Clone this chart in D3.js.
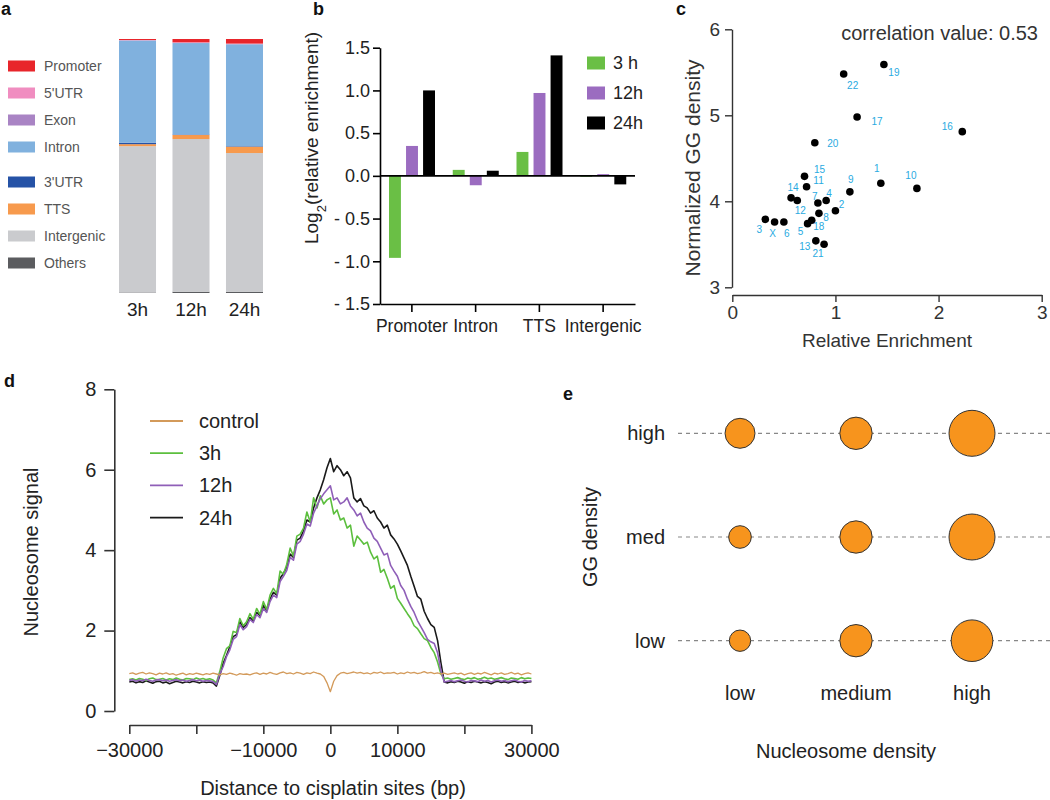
<!DOCTYPE html>
<html><head><meta charset="utf-8">
<script src="https://cdn.jsdelivr.net/npm/d3@7"></script>
<style>
body{margin:0;background:#fff;}
text{font-family:"Liberation Sans",Arial,Helvetica,sans-serif;}
</style></head><body>
<svg id="fig" width="1050" height="800"></svg>
<script>
// ---------- Panel a: genomic annotation (% of sites) ----------
const annoCategories = ["Promoter","5'UTR","Exon","Intron","3'UTR","TTS","Intergenic","Others"];
const annoColors = ["#e8252b","#f08dc0","#a984c4","#80b1de","#2552a6","#f79a4d","#cacbce","#5b5c5f"];
const annoTimes = ["3h","12h","24h"];
const anno3h  = [0.4, 0.1, 0.1, 40.2, 0.6, 0.8, 57.6, 0.2];
const anno12h = [1.3, 0.2, 0.1, 36.0, 0.2, 1.6, 60.1, 0.5];
const anno24h = [1.8, 0.2, 0.1, 40.1, 0.2, 2.5, 54.6, 0.5];

// ---------- Panel b: log2 relative enrichment ----------
const enrichCats = ["Promoter","Intron","TTS","Intergenic"];
const enrichTimes = ["3h","12h","24h"];
const enrichLegend = ["3 h","12h","24h"];
const enrichColors = ["#6abf45","#9b6cc0","#000000"];
const enrich3h  = [-0.96, 0.07, 0.28, -0.01];
const enrich12h = [0.35, -0.11, 0.97, 0.02];
const enrich24h = [1.00, 0.06, 1.41, -0.10];
const enrichTicks = [-1.5,-1.0,-0.5,0.0,0.5,1.0,1.5];

// ---------- Panel c: chromosome scatter ----------
const chromNames = ["1","2","3","4","5","6","7","8","9","10","11","12","13","14","15","16","17","18","19","20","21","22","X"];
const chromEnrich = [1.44,1.00,0.32,0.91,0.73,0.50,0.83,0.84,1.14,1.79,0.72,0.63,0.81,0.57,0.70,2.23,1.21,0.77,1.47,0.80,0.89,1.08,0.41];
const chromGG     = [4.21,3.89,3.79,4.01,3.74,3.76,3.98,3.86,4.11,4.15,4.17,4.01,3.54,4.04,4.29,4.81,4.98,3.78,5.59,4.68,3.50,5.48,3.76];
const corrText = "correlation value: 0.53";
// label placement (pixel offsets from each dot)
const chromLabelDx = [-4,6,-6,3,-7,3,-3,7,1,-6,12,3,-11,2,15,-15,20,7,10,18,-6,9,-2];
const chromLabelDy = [-15,-6,10,-7,8,12,-7,4,-12,-13,-6,10,6,-10,-7,-5,4,6,8,1,9,11,12];

// ---------- Panel d: nucleosome signal profiles ----------
const distStart = -30000, distStep = 500; // positions -30000..30000
const sigControl = [0.93,0.95,0.91,0.94,0.96,0.92,0.95,0.93,0.90,0.94,0.92,0.95,0.91,0.93,0.89,0.92,0.94,0.90,0.93,0.91,0.94,0.92,0.90,0.93,0.91,0.94,
 0.92,0.90,0.93,0.91,0.94,0.92,0.89,0.93,0.91,0.92,0.90,0.93,0.95,0.91,0.94,0.92,0.96,0.93,0.91,0.95,0.97,0.93,0.95,0.92,0.96,0.94,0.91,0.95,0.93,0.97,0.94,0.92,
 0.86,0.70,0.48,0.74,0.88,
 0.94,0.96,0.93,0.95,0.97,0.94,0.96,0.93,0.95,0.92,0.96,0.94,0.97,0.93,0.95,0.94,0.96,0.92,0.95,0.93,
 0.97,0.94,0.96,0.93,0.95,0.98,0.94,0.96,0.93,0.95,0.92,0.94,0.91,0.93,0.95,0.92,0.94,0.90,0.93,0.95,
 0.91,0.94,0.92,0.96,0.93,0.90,0.94,0.92,0.95,0.91,0.93,0.96,0.92,0.94,0.90,0.93,0.95,0.92];
const sig3h = [0.78,0.80,0.77,0.81,0.79,0.76,0.80,0.82,0.78,0.79,0.81,0.77,0.80,0.78,0.82,0.79,0.77,0.81,0.80,0.78,0.82,0.79,0.81,0.78,0.80,0.77,
 0.70,0.98,1.32,1.55,1.62,1.98,1.95,2.30,2.12,2.22,2.42,2.28,2.55,2.40,2.72,2.52,2.88,3.05,2.92,3.48,3.40,3.65,4.05,3.85,4.35,4.40,4.55,4.95,4.70,5.30,5.05,5.35,5.15,5.25,
 5.30,4.90,5.00,4.75,4.80,4.55,4.62,4.10,4.35,4.25,4.15,4.20,3.95,3.78,3.85,3.45,3.52,3.30,3.05,3.12,2.80,2.68,2.55,2.42,2.30,2.12,2.05,1.92,1.80,1.75,1.58,1.45,1.22,0.92,0.80,
 0.82,0.79,0.81,0.83,0.80,0.78,0.82,0.80,0.83,0.79,0.81,0.84,0.80,0.82,0.79,0.81,0.83,0.80,0.78,0.82,0.81,0.79,0.83,0.80,0.82,0.81];
const sig12h = [0.76,0.78,0.74,0.77,0.75,0.79,0.76,0.74,0.77,0.78,0.75,0.77,0.74,0.76,0.78,0.75,0.77,0.74,0.76,0.78,0.75,0.77,0.74,0.76,0.75,0.73,
 0.66,0.92,1.10,1.35,1.52,1.78,1.85,2.15,2.02,2.10,2.28,2.20,2.40,2.32,2.55,2.45,2.72,2.88,2.82,3.22,3.35,3.50,3.82,3.75,4.15,4.22,4.40,4.65,4.60,4.92,5.10,5.28,5.40,5.50,
 5.60,5.25,5.30,5.15,5.20,5.30,5.10,5.00,4.85,4.92,4.70,4.55,4.48,4.30,4.22,4.05,3.88,3.92,3.62,3.48,3.35,3.12,3.00,2.78,2.60,2.45,2.25,2.10,1.95,1.78,1.72,1.68,1.45,1.00,0.72,
 0.74,0.76,0.73,0.75,0.77,0.74,0.72,0.76,0.75,0.73,0.77,0.74,0.76,0.72,0.75,0.77,0.74,0.76,0.73,0.75,0.77,0.74,0.72,0.76,0.74,0.75];
const sig24h = [0.72,0.74,0.70,0.73,0.71,0.75,0.72,0.69,0.73,0.74,0.70,0.72,0.68,0.71,0.74,0.72,0.70,0.73,0.71,0.74,0.72,0.70,0.73,0.71,0.72,0.70,
 0.62,0.88,1.18,1.38,1.60,1.85,1.90,2.22,2.08,2.15,2.32,2.25,2.45,2.38,2.62,2.50,2.78,2.95,2.88,3.30,3.42,3.58,3.90,3.82,4.25,4.30,4.48,4.75,4.70,5.05,5.30,5.50,5.75,6.05,
 6.28,5.95,6.10,6.00,5.85,5.95,5.80,5.30,5.20,5.28,5.10,5.05,4.92,4.98,4.80,4.70,4.55,4.62,4.38,4.28,4.15,3.98,3.80,3.62,3.35,3.10,2.85,2.78,2.48,2.30,2.15,2.08,1.75,1.20,0.72,
 0.70,0.73,0.71,0.74,0.72,0.69,0.73,0.71,0.74,0.72,0.70,0.73,0.71,0.68,0.72,0.74,0.71,0.73,0.70,0.72,0.74,0.71,0.73,0.70,0.72,0.73];
const sigNames = ["control","3h","12h","24h"];
const sigColors = ["#d39a5a","#5cbf3e","#8f5fb8","#1a1a1a"];
const distTicks = [-30000,-20000,-10000,0,10000,20000,30000];
const distLabeled = [-30000,-10000,0,10000,30000];

// ---------- Panel e: bubble summary ----------
const nucLevels = ["low","medium","high"];
const ggLevels = ["low","med","high"];
const bubbleLow  = [114, 262, 433];
const bubbleMed  = [128, 262, 529];
const bubbleHigh = [225, 262, 529];

// =====================================================
const svg = d3.select("#fig");
function panelLetter(t,x,y){ svg.append("text").attr("x",x).attr("y",y).attr("font-size",18).attr("font-weight","bold").attr("fill","#111").text(t); }
function styleText(g,size,fill){ g.selectAll("text").attr("font-size",size).attr("fill",fill).style("font-family","Liberation Sans, Arial, sans-serif"); }

// ---------- Panel a ----------
panelLetter("a",1,15);
const colorA = d3.scaleOrdinal().domain(annoCategories).range(annoColors);
const xA = d3.scaleBand().domain(annoTimes).range([119,263]).paddingInner(0.308);
const yA = d3.scaleLinear().domain([0,100]).range([293,39]);
const annoSeries = [anno3h, anno12h, anno24h];
const annoRows = annoTimes.map((t,i)=>{const o={time:t}; annoCategories.forEach((c,j)=>o[c]=annoSeries[i][j]); return o;});
const stackA = d3.stack().keys(annoCategories.slice().reverse())(annoRows);
svg.append("g").selectAll("g").data(stackA).join("g").attr("fill",d=>colorA(d.key))
  .selectAll("rect").data(d=>d).join("rect")
  .attr("x",d=>xA(d.data.time)).attr("width",xA.bandwidth())
  .attr("y",d=>yA(d[1])).attr("height",d=>Math.max(0,yA(d[0])-yA(d[1])));
const axA = svg.append("g").attr("transform","translate(0,299)")
  .call(d3.axisBottom(xA).tickSize(0).tickPadding(4));
axA.select(".domain").remove();
styleText(axA,19,"#222");
const legA = svg.append("g");
annoCategories.forEach((c,i)=>{
  const yy = 66 + i*27 + (i>=4?8:0);
  legA.append("rect").attr("x",8).attr("y",yy-5.5).attr("width",27).attr("height",11).attr("fill",colorA(c));
  legA.append("text").attr("x",44).attr("y",yy).attr("dy","0.35em").attr("font-size",14).attr("fill","#555").text(c);
});

// ---------- Panel b ----------
panelLetter("b",313,15);
const x0B = d3.scaleBand().domain(enrichCats).range([380,635]);
const x1B = d3.scaleBand().domain(enrichTimes).range([9,55]).paddingInner(0.3);
const yB = d3.scaleLinear().domain([-1.5,1.5]).range([304,47.7]);
const colorB = d3.scaleOrdinal().domain(enrichTimes).range(enrichColors);
const enrichSeries = [enrich3h, enrich12h, enrich24h];
const barData = [];
enrichCats.forEach((c,i)=>enrichTimes.forEach((t,k)=>barData.push({cat:c,time:t,v:enrichSeries[k][i]})));
svg.append("g").selectAll("rect").data(barData).join("rect")
  .attr("x",d=>x0B(d.cat)+x1B(d.time)).attr("width",x1B.bandwidth())
  .attr("y",d=>yB(Math.max(0,d.v))).attr("height",d=>Math.abs(yB(d.v)-yB(0)))
  .attr("fill",d=>colorB(d.time));
svg.append("line").attr("x1",380).attr("x2",635).attr("y1",yB(0)).attr("y2",yB(0)).attr("stroke","#000").attr("stroke-width",1.6);
const ayB = svg.append("g").attr("transform","translate(380,0)")
  .call(d3.axisLeft(yB).tickValues(enrichTicks).tickSize(7).tickSizeOuter(0).tickPadding(3)
    .tickFormat(d=> (d<0?"- ":"") + Math.abs(d).toFixed(1)));
ayB.select(".domain").attr("stroke","#000").attr("stroke-width",1.6);
ayB.selectAll(".tick line").attr("stroke","#000").attr("stroke-width",1.6);
styleText(ayB,18,"#222");
const axB = svg.append("g").attr("transform","translate(0,304)")
  .call(d3.axisBottom(x0B).tickSize(8).tickSizeOuter(0).tickPadding(8));
axB.select(".domain").attr("stroke","#000").attr("stroke-width",1.6);
axB.selectAll(".tick line").attr("stroke","#000").attr("stroke-width",1.6);
styleText(axB,17.5,"#222");
const tB = svg.append("text").attr("transform","translate(318,138) rotate(-90)").attr("text-anchor","middle")
  .attr("font-size",19).attr("fill","#222");
tB.append("tspan").text("Log");
tB.append("tspan").attr("font-size",13).attr("baseline-shift","sub").text("2");
tB.append("tspan").text("(relative enrichment)");
enrichLegend.forEach((l,i)=>{
  const yy = 63 + i*30;
  svg.append("rect").attr("x",587).attr("y",yy-6.5).attr("width",18).attr("height",13).attr("fill",enrichColors[i]);
  svg.append("text").attr("x",613).attr("y",yy).attr("dy","0.35em").attr("font-size",18).attr("fill","#222").text(l);
});

// ---------- Panel c ----------
panelLetter("c",676,15);
const xC = d3.scaleLinear().domain([0,3]).range([732.3,1041.7]);
const yC = d3.scaleLinear().domain([3,6]).range([287.3,29.3]);
const ayC = svg.append("g").attr("transform","translate(732,0)")
  .call(d3.axisLeft(yC).tickValues([3,4,5,6]).tickFormat(d3.format("d")).tickSize(7).tickSizeOuter(0).tickPadding(5));
const axC = svg.append("g").attr("transform","translate(0,295)")
  .call(d3.axisBottom(xC).tickValues([0,1,2,3]).tickFormat(d3.format("d")).tickSize(7).tickSizeOuter(0).tickPadding(4));
[ayC,axC].forEach(g=>{
  g.select(".domain").attr("stroke","#333").attr("stroke-width",1.4);
  g.selectAll(".tick line").attr("stroke","#333").attr("stroke-width",1.4);
  styleText(g,19,"#333");
});
svg.append("g").selectAll("circle").data(chromNames).join("circle")
  .attr("cx",(d,i)=>xC(chromEnrich[i])).attr("cy",(d,i)=>yC(chromGG[i])).attr("r",3.8).attr("fill","#000");
svg.append("g").selectAll("text").data(chromNames).join("text")
  .attr("x",(d,i)=>xC(chromEnrich[i])+chromLabelDx[i]).attr("y",(d,i)=>yC(chromGG[i])+chromLabelDy[i])
  .attr("text-anchor","middle").attr("dy","0.35em").attr("font-size",10).attr("fill","#29aae1").text(d=>d);
svg.append("text").attr("x",1038).attr("y",33).attr("dy","0.35em").attr("text-anchor","end").attr("font-size",20).attr("fill","#333").text(corrText);
svg.append("text").attr("transform","translate(700,168) rotate(-90)").attr("text-anchor","middle").attr("font-size",21).attr("fill","#333").text("Normalized GG density");
svg.append("text").attr("x",887).attr("y",347).attr("text-anchor","middle").attr("font-size",19).attr("fill","#333").text("Relative Enrichment");

// ---------- Panel d ----------
panelLetter("d",4,387);
const xD = d3.scaleLinear().domain([-30000,30000]).range([129.3,531.4]);
const yD = d3.scaleLinear().domain([0,8]).range([711,389.3]);
const allSig = [sigControl, sig3h, sig12h, sig24h];
const lineD = d3.line().x((d,i)=>xD(distStart+i*distStep)).y(d=>yD(d));
const drawOrder = [3,1,2,0];
svg.append("g").selectAll("path").data(drawOrder).join("path")
  .attr("d",k=>lineD(allSig[k])).attr("fill","none").attr("stroke",k=>sigColors[k])
  .attr("stroke-width",k=>k===0?1.3:1.6).attr("stroke-linejoin","round");
const ayD = svg.append("g").attr("transform","translate(114.3,0)")
  .call(d3.axisLeft(yD).tickValues([0,2,4,6,8]).tickSize(10).tickSizeOuter(0).tickPadding(8));
const axD = svg.append("g").attr("transform","translate(0,725)")
  .call(d3.axisBottom(xD).tickValues(distTicks).tickSize(9).tickSizeOuter(0).tickPadding(9)
    .tickFormat(d=>distLabeled.includes(d)? d3.format("d")(d).replace("-","\u2212") : ""));
[ayD,axD].forEach(g=>{
  g.select(".domain").attr("stroke","#333").attr("stroke-width",1.6);
  g.selectAll(".tick line").attr("stroke","#333").attr("stroke-width",1.6);
  styleText(g,20,"#222");
});
svg.append("text").attr("transform","translate(38,552) rotate(-90)").attr("text-anchor","middle").attr("font-size",20).attr("fill","#222").text("Nucleosome signal");
svg.append("text").attr("x",333).attr("y",795).attr("text-anchor","middle").attr("font-size",20).attr("fill","#222").text("Distance to cisplatin sites (bp)");
sigNames.forEach((n,i)=>{
  const yy = 421 + i*32.2;
  svg.append("line").attr("x1",150).attr("x2",183).attr("y1",yy).attr("y2",yy).attr("stroke",sigColors[i]).attr("stroke-width",1.8);
  svg.append("text").attr("x",199).attr("y",yy).attr("dy","0.35em").attr("font-size",20).attr("fill","#222").text(n);
});

// ---------- Panel e ----------
panelLetter("e",563,400);
const xE = d3.scalePoint().domain(nucLevels).range([740,972]);
const yE = d3.scalePoint().domain(ggLevels).range([640.7,433.3]);
const rE = d3.scaleSqrt().domain([0,529]).range([0,23]);
const bubbleSeries = [bubbleLow, bubbleMed, bubbleHigh];
svg.append("g").selectAll("line").data(ggLevels).join("line")
  .attr("x1",678).attr("x2",1050).attr("y1",d=>yE(d)).attr("y2",d=>yE(d))
  .attr("stroke","#888").attr("stroke-width",1.2).attr("stroke-dasharray","4,4");
const bub = [];
ggLevels.forEach((g,i)=>nucLevels.forEach((n,j)=>bub.push({g,n,v:bubbleSeries[i][j]})));
svg.append("g").selectAll("circle").data(bub).join("circle")
  .attr("cx",d=>xE(d.n)).attr("cy",d=>yE(d.g)).attr("r",d=>rE(d.v))
  .attr("fill","#f7941d").attr("stroke","#333").attr("stroke-width",1);
svg.append("g").selectAll("text").data(ggLevels).join("text")
  .attr("x",665).attr("y",d=>yE(d)).attr("dy","0.35em").attr("text-anchor","end").attr("font-size",20).attr("fill","#222").text(d=>d);
svg.append("g").selectAll("text").data(nucLevels).join("text")
  .attr("x",d=>xE(d)).attr("y",693).attr("dy","0.35em").attr("text-anchor","middle").attr("font-size",20).attr("fill","#222").text(d=>d);
svg.append("text").attr("x",846).attr("y",751).attr("dy","0.35em").attr("text-anchor","middle").attr("font-size",20).attr("fill","#222").text("Nucleosome density");
svg.append("text").attr("transform","translate(590,537) rotate(-90)").attr("text-anchor","middle").attr("dy","0.35em").attr("font-size",20).attr("fill","#222").text("GG density");
</script></body></html>
